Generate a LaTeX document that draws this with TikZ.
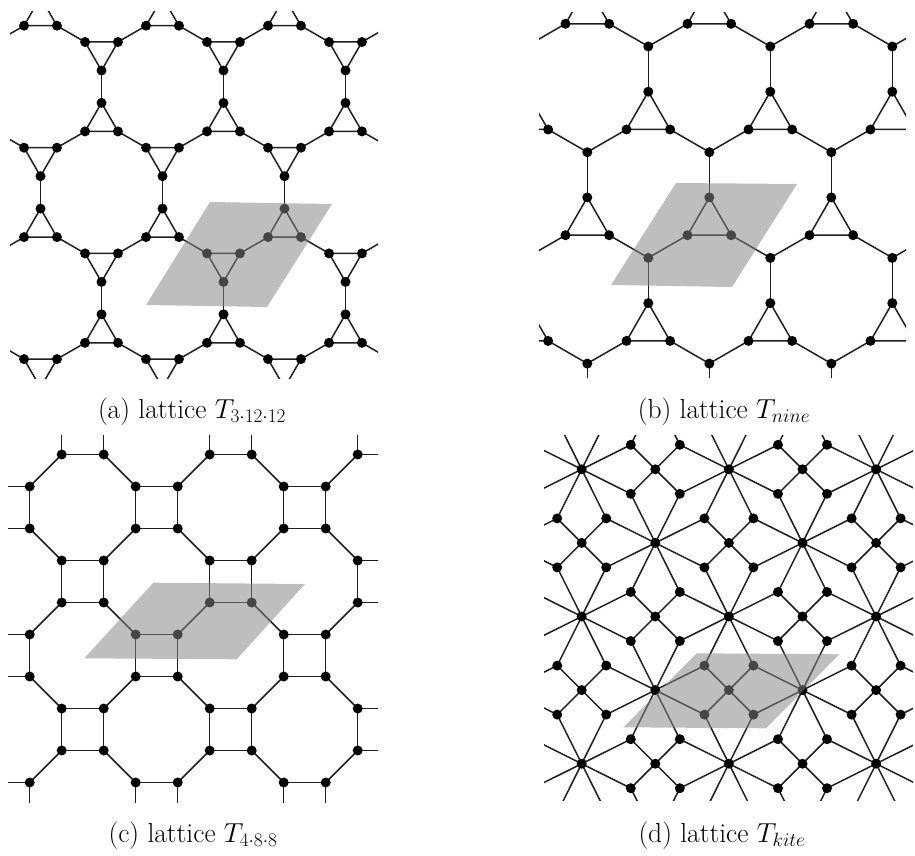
\RequirePackage{fix-cm}
\documentclass[tikz,border=0pt]{standalone}
\tikzset{
  bond/.style={line width=1.5pt, draw=black!88},
  cellbox/.style={fill=black!48, fill opacity=0.53},
  captext/.style={font=\fontsize{27.5}{32}\selectfont, anchor=base, inner sep=0pt},
}
\newcommand{\lsite}[1]{\fill #1 circle (5pt);}
\begin{document}
\begin{tikzpicture}[x=1pt,y=-1pt]
\useasboundingbox (0,0) rectangle (915,856);

% ---------------- (a) T_{3.12.12}
\begin{scope}
\clip (10,12) rectangle (378,378);
\foreach \i in {-4,...,4}{\foreach \j in {-1,...,4}{
  \pgfmathsetmacro\X{101.5+122*\i+61*\j}
  \pgfmathsetmacro\Y{51.5+105.7*\j}
  \begin{scope}[shift={(\X,\Y)}]
   \draw[bond] (0,19)--(-16.45,-9.5)--(16.45,-9.5)--cycle;
   \draw[bond] (0,51.4)--(-16.45,79.9)--(16.45,79.9)--cycle;
   \draw[bond] (0,19)--(0,51.4);
   \draw[bond] (-16.45,-9.5)--(-44.5,-25.7);
   \draw[bond] (16.45,-9.5)--(44.5,-25.7);
  \end{scope}}}
\foreach \i in {-4,...,4}{\foreach \j in {-1,...,4}{
  \pgfmathsetmacro\X{101.5+122*\i+61*\j}
  \pgfmathsetmacro\Y{51.5+105.7*\j}
  \begin{scope}[shift={(\X,\Y)}]
   \foreach \p in {(0,19),(-16.45,-9.5),(16.45,-9.5),(0,51.4),(-16.45,79.9),(16.45,79.9)} {\lsite{\p}}
  \end{scope}}}
\end{scope}
\fill[cellbox] (146,305) -- (267,307) -- (332,204) -- (210,202) -- cycle;

% ---------------- (b) T_nine
\begin{scope}
\clip (539,13) rectangle (906,377);
\foreach \i in {-4,...,3}{\foreach \j in {-1,...,3}{
  \pgfmathsetmacro\X{648.3+122*\i+61*\j}
  \pgfmathsetmacro\Y{116.9+105.7*\j}
  \begin{scope}[shift={(\X,\Y)}]
   \draw[bond] (0,-25.2)--(-21.8,12.6)--(21.8,12.6)--cycle;
   \draw[bond] (0,-25.2)--(0,-70.4);
   \draw[bond] (-21.8,12.6)--(-61,35.2);
   \draw[bond] (21.8,12.6)--(61,35.2);
  \end{scope}}}
\foreach \i in {-4,...,3}{\foreach \j in {-1,...,3}{
  \pgfmathsetmacro\X{648.3+122*\i+61*\j}
  \pgfmathsetmacro\Y{116.9+105.7*\j}
  \begin{scope}[shift={(\X,\Y)}]
   \foreach \p in {(0,-25.2),(-21.8,12.6),(21.8,12.6),(0,-70.4)} {\lsite{\p}}
  \end{scope}}}
\end{scope}
\fill[cellbox] (611,285) -- (732,287) -- (797,184) -- (676,183) -- cycle;

% ---------------- (c) T_{4.8.8}
\begin{scope}
\clip (8,435) rectangle (378,802);
\foreach \i in {-4,...,3}{\foreach \j in {-2,...,5}{
  \pgfmathsetmacro\X{156.7+148*\i+74*\j}
  \pgfmathsetmacro\Y{507.5+74*\j}
  \begin{scope}[shift={(\X,\Y)}]
   \draw[bond] (-21,-21) rectangle (21,21);
   \draw[bond] (21,21)--(53,53);
   \draw[bond] (21,-21)--(53,-53);
  \end{scope}}}
\foreach \i in {-4,...,3}{\foreach \j in {-2,...,5}{
  \pgfmathsetmacro\X{156.7+148*\i+74*\j}
  \pgfmathsetmacro\Y{507.5+74*\j}
  \begin{scope}[shift={(\X,\Y)}]
   \foreach \p in {(-21,-21),(21,-21),(21,21),(-21,21)} {\lsite{\p}}
  \end{scope}}}
\end{scope}
\fill[cellbox] (84.3,658.3) -- (236.7,659.3) -- (305,584) -- (153.3,582.7) -- cycle;

% ---------------- (d) T_kite
\begin{scope}
\clip (544,435) rectangle (913,800);
\foreach \i in {-4,...,3}{\foreach \j in {-1,...,5}{
  \pgfmathsetmacro\X{581.7+147.2*\i+73.6*\j}
  \pgfmathsetmacro\Y{469.3+73.6*\j}
  \begin{scope}[shift={(\X,\Y)}]
   \draw[bond] (73.6,0)--(98.1,24.5) (73.6,0)--(49.1,24.5)
               (73.6,0)--(49.1,-24.5) (73.6,0)--(98.1,-24.5);
   \draw[bond] (147.2,0)--(98.1,24.5)--(73.6,73.6)--(49.1,24.5)--(0,0)
               --(49.1,-24.5)--(73.6,-73.6)--(98.1,-24.5)--cycle;
  \end{scope}}}
\foreach \i in {-4,...,3}{\foreach \j in {-1,...,5}{
  \pgfmathsetmacro\X{581.7+147.2*\i+73.6*\j}
  \pgfmathsetmacro\Y{469.3+73.6*\j}
  \begin{scope}[shift={(\X,\Y)}]
   \foreach \p in {(0,0),(73.6,0),(98.1,24.5),(49.1,24.5),(49.1,-24.5),(98.1,-24.5)} {\lsite{\p}}
  \end{scope}}}
\end{scope}
\fill[cellbox] (623.3,727.3) -- (766,728.3) -- (839.3,654.3) -- (696.7,653.3) -- cycle;

% ---------------- captions
\node[captext] (capa) at (192,418) {(a) lattice $T_{3\cdot 12\cdot 12}$};
\node[captext] (capb) at (724,418) {(b) lattice $T_{nine}$};
\node[captext] (capc) at (193,842) {(c) lattice $T_{4\cdot 8\cdot 8}$};
\node[captext] (capd) at (722,842) {(d) lattice $T_{kite}$};
\end{tikzpicture}
\end{document}
